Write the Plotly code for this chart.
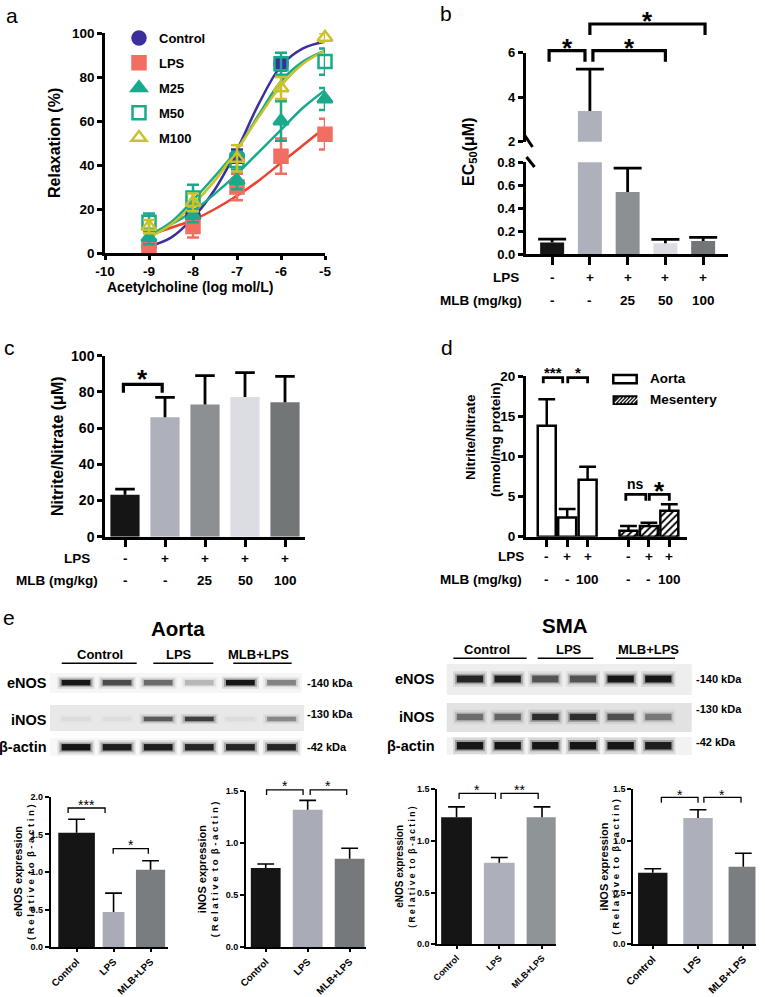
import plotly.graph_objects as go

W, H = 765, 997
FONT = "Arial, Liberation Sans, Helvetica, sans-serif"

# ======================= DATA =======================
# (a) acetylcholine concentration-response (mean, SEM)
ach_log = [-9, -8, -7, -6, -5]
relax_control = [3, 17, 44, 86, None]
relax_control_sem = [1.5, 2, 3, 3, 0]
relax_lps = [3, 12, 30, 44, 54]
relax_lps_sem = [4, 5, 6, 8, 7]
relax_m25 = [7, 17, 33, 60, 70]
relax_m25_sem = [3, 3, 4, 9, 5]
relax_m50 = [14, 25, 42, 86, 87]
relax_m50_sem = [4, 6, 4, 5, 6]
relax_m100 = [12, 23, 43, 75, 98]
relax_m100_sem = [3, 4, 6, 5, 2]
# fitted curves
fit_log = [-9, -8.5, -8, -7.5, -7, -6.5, -6, -5.5, -5]
fit_control = [3, 7, 16, 29, 47, 68, 85, 93, 96]
fit_lps = [8, 11.5, 15, 20, 26, 33, 41, 49, 57]
fit_m25 = [8, 13, 19, 27, 36, 46, 56, 66, 74]
fit_m50 = [8, 14, 24, 35, 47, 63, 78, 87, 92]
fit_m100 = [7, 13, 22, 33, 47, 62, 76, 86, 92]
series_names = ["Control", "LPS", "M25", "M50", "M100"]
a_xticks = [-10, -9, -8, -7, -6, -5]
a_yticks = [0, 20, 40, 60, 80, 100]

# (b) EC50
lps_row5 = ["-", "+", "+", "+", "+"]
mlb_row5 = ["-", "-", "25", "50", "100"]
ec50 = [0.10, 3.38, 0.54, 0.093, 0.113]
ec50_sem = [0.03, 1.88, 0.21, 0.035, 0.032]

# (c) plasma nitrite/nitrate
nox_plasma = [23.2, 66.0, 73.1, 77.2, 74.3]
nox_plasma_sem = [3.1, 11.0, 15.9, 13.4, 14.3]

# (d) tissue nitrite/nitrate
d_lps_row = ["-", "+", "+"]
d_mlb_row = ["-", "-", "100"]
nox_aorta = [13.8, 2.4, 7.1]
nox_aorta_sem = [3.3, 1.05, 1.6]
nox_mes = [0.75, 1.33, 3.24]
nox_mes_sem = [0.58, 0.42, 0.79]

# (e) western blot quantification
e_groups = ["Control", "LPS", "MLB+LPS"]
aorta_enos = [1.52, 0.47, 1.03]
aorta_enos_sem = [0.18, 0.25, 0.12]
aorta_inos = [0.76, 1.32, 0.85]
aorta_inos_sem = [0.04, 0.09, 0.10]
sma_enos = [1.23, 0.79, 1.23]
sma_enos_sem = [0.10, 0.05, 0.10]
sma_inos = [0.69, 1.22, 0.75]
sma_inos_sem = [0.04, 0.08, 0.13]

# blot band intensities (0-1), 6 lanes
blot_rows = ["eNOS", "iNOS", "β-actin"]
blot_kda = ["-140 kDa", "-130 kDa", "-42 kDa"]
aorta_enos_band = [0.95, 0.65, 0.5, 0.2, 0.95, 0.4]
aorta_inos_band = [0.04, 0.03, 0.55, 0.7, 0.04, 0.35]
aorta_actin_band = [0.95, 0.9, 0.9, 0.85, 0.85, 0.85]
sma_enos_band = [0.85, 0.9, 0.6, 0.6, 0.95, 0.95]
sma_inos_band = [0.45, 0.5, 0.8, 0.8, 0.6, 0.4]
sma_actin_band = [0.95, 0.95, 0.95, 0.95, 0.95, 0.9]

# ======================= STYLE =======================
C_CTRL = "#3d2f9b"
C_LPS_M = "#f26d62"
C_LPS_L = "#e8432f"
C_TEAL = "#19a98b"
C_YEL = "#cbc22a"
BAR5 = ["#151515", "#aeb0bb", "#8d9093", "#dcdde2", "#737677"]
E_AORTA_ENOS = ["#151515", "#a9acb6", "#7a7d80"]
E_AORTA_INOS = ["#151515", "#a9acb6", "#76797c"]
E_SMA_ENOS = ["#151515", "#adb0bb", "#8f9497"]
E_SMA_INOS = ["#151515", "#adb0bb", "#7b7e81"]

fig = go.Figure()
shapes, annos, axes = [], [], {}


def sfx(n):
    return "" if n == 1 else str(n)


class Panel:
    def __init__(self, n, xpx, ypx, xr, yr):
        self.n, self.xpx, self.ypx, self.xr, self.yr = n, xpx, ypx, xr, yr
        self.xa = "x" + sfx(n)
        self.ya = "y" + sfx(n)

    def X(self, v):
        return self.xpx[0] + (v - self.xr[0]) / (self.xr[1] - self.xr[0]) * (self.xpx[1] - self.xpx[0])

    def Y(self, v):
        return self.ypx[1] - (v - self.yr[0]) / (self.yr[1] - self.yr[0]) * (self.ypx[1] - self.ypx[0])


def make_axes(p, xkw, ykw):
    s = sfx(p.n)
    xa = dict(domain=[p.xpx[0] / W, p.xpx[1] / W], range=list(p.xr), anchor=p.ya,
              showgrid=False, zeroline=False)
    ya = dict(domain=[1 - p.ypx[1] / H, 1 - p.ypx[0] / H], range=list(p.yr), anchor=p.xa,
              showgrid=False, zeroline=False)
    xa.update(xkw)
    ya.update(ykw)
    axes["xaxis" + s] = xa
    axes["yaxis" + s] = ya


def fmt(v):
    return str(int(v)) if float(v).is_integer() else str(v)


def line_axis(lw, tl, tw, fs, vals, text=None, show=True, angle=None):
    labels = text if text is not None else [fmt(v) for v in vals]
    d = dict(visible=True, showline=True, linecolor="black", linewidth=lw, ticks="outside",
             ticklen=tl, tickwidth=tw, tickcolor="black", tickvals=vals, showticklabels=show,
             ticktext=[f"<b>{t}</b>" for t in labels],
             tickfont=dict(family=FONT, size=fs, color="black"))
    if angle is not None:
        d["tickangle"] = angle
    return d


HIDDEN = dict(visible=False)


def text(xp, yp, t, size, bold=True, xanchor="center", angle=0, xref="paper", color="black"):
    annos.append(dict(x=xp / W if xref == "paper" else xp, y=1 - yp / H, xref=xref, yref="paper",
                      text=t, showarrow=False, xanchor=xanchor, yanchor="middle", textangle=angle,
                      font=dict(family=FONT, size=size, color=color,
                                weight="bold" if bold else "normal")))


def seg(x0, y0, x1, y1, w, color="black"):
    shapes.append(dict(type="line", xref="paper", yref="paper", x0=x0 / W, y0=1 - y0 / H,
                       x1=x1 / W, y1=1 - y1 / H, line=dict(color=color, width=w)))


def rect(x0, y0, x1, y1, fill, lw=0, lc="black", layer="below"):
    shapes.append(dict(type="rect", xref="paper", yref="paper", x0=x0 / W, y0=1 - y1 / H,
                       x1=x1 / W, y1=1 - y0 / H, fillcolor=fill, layer=layer,
                       line=dict(color=lc, width=lw)))


def bracket(p, x1, x2, yv, leg, label, size, lw, dy, bold=True):
    X1, X2, Yp = p.X(x1), p.X(x2), p.Y(yv)
    path = (f"M{X1 / W},{1 - (Yp + leg) / H} L{X1 / W},{1 - Yp / H} "
            f"L{X2 / W},{1 - Yp / H} L{X2 / W},{1 - (Yp + leg) / H}")
    shapes.append(dict(type="path", xref="paper", yref="paper", path=path,
                       line=dict(color="black", width=lw)))
    corr = 0.23 if set(label) <= {"*"} else -0.05
    text((X1 + X2) / 2, Yp - dy + corr * size, label, size, bold)


def bars_with_err(p, x, y, sem, width, marker, thick, capw):
    """Bar + one-sided (upper) error line + cap, Prism style."""
    fig.add_trace(go.Bar(x=x, y=y, width=width, marker=marker,
                         error_y=dict(type="data", symmetric=False, array=sem,
                                      arrayminus=[0] * len(sem), color="black",
                                      thickness=thick, width=0),
                         showlegend=False, hoverinfo="skip", xaxis=p.xa, yaxis=p.ya))
    fig.add_trace(go.Scatter(x=x, y=[m + s for m, s in zip(y, sem)], mode="markers",
                             marker=dict(symbol="line-ew", size=2 * capw, color="black",
                                         line=dict(color="black", width=thick)),
                             showlegend=False, hoverinfo="skip", xaxis=p.xa, yaxis=p.ya))


# ======================= PANEL a =======================
pa = Panel(1, (105, 325), (33, 253), (-10, -5), (0, 100))
make_axes(pa, line_axis(2.5, 4, 2.5, 13.5, a_xticks),
          line_axis(2.5, 5, 2.5, 13.5, a_yticks))
curves = [fit_control, fit_lps, fit_m25, fit_m50, fit_m100]
curve_cols = [C_CTRL, C_LPS_L, C_TEAL, C_TEAL, C_YEL]
for cv, col in zip(curves, curve_cols):
    fig.add_trace(go.Scatter(x=fit_log, y=cv, mode="lines", line=dict(color=col, width=2.5, shape="spline"),
                             showlegend=False, hoverinfo="skip", xaxis=pa.xa, yaxis=pa.ya))
means = [relax_control, relax_lps, relax_m25, relax_m50, relax_m100]
sems = [relax_control_sem, relax_lps_sem, relax_m25_sem, relax_m50_sem, relax_m100_sem]
sym = ["circle", "square", "triangle-up", "square-open", "triangle-up-open"]
mcols = [C_CTRL, C_LPS_M, C_TEAL, C_TEAL, C_YEL]
for name, m, s, sy, col in zip(series_names, means, sems, sym, mcols):
    fig.add_trace(go.Scatter(x=ach_log, y=m, mode="markers", name=name, legendgroup=name,
                             marker=dict(symbol=sy, size=13, color=col, line=dict(color=col, width=2.5)),
                             error_y=dict(type="data", array=s, color=col, thickness=2.5, width=6),
                             cliponaxis=False, xaxis=pa.xa, yaxis=pa.ya))
text(55, 143, "Relaxation (%)", 16, angle=-90)
text(105, 287, "Acetylcholine (log mol/L)", 14, xanchor="left")
text(12, 15, "a", 21, bold=False)

# ======================= PANEL b =======================
pos5 = list(range(len(ec50)))
pb = Panel(2, (525.7, 727.7), (162.3, 254), (-0.70, 4.65), (0, 0.8))
pbu = Panel(3, (525.7, 727.7), (52.7, 141.7), (-0.70, 4.65), (2, 6))
make_axes(pb, line_axis(2.5, 8, 2.5, 13, pos5, show=False),
          line_axis(2.5, 5, 2.5, 13, [0, 0.2, 0.4, 0.6, 0.8], ["0.0", "0.2", "0.4", "0.6", "0.8"]))
make_axes(pbu, HIDDEN, line_axis(2.5, 5, 2.5, 13, [2, 4, 6]))
for p in (pb, pbu):
    bars_with_err(p, pos5, ec50, ec50_sem, 0.635, dict(color=BAR5, line=dict(width=0)), 2.8, 10)
seg(524.5, 135, 532.5, 147, 3)
seg(526.5, 157, 534.5, 167, 3)
bracket(pbu, -0.08, 0.87, 6.09, 11, "*", 26, 3.2, 9)
bracket(pbu, 1.08, 3.0, 6.09, 11, "*", 26, 3.2, 9)
bracket(pbu, 1.0, 4.05, 7.29, 11, "*", 26, 3.2, 9)
text(470, 152, "EC<sub>50</sub>(μM)", 16, angle=-90)
for i, (l, m) in enumerate(zip(lps_row5, mlb_row5)):
    text(i, 277.7, l, 13.5, xref=pb.xa)
    text(i, 300.7, m, 13.5, xref=pb.xa)
text(521, 277.7, "LPS", 13.5, xanchor="right")
text(524, 300.7, "MLB (mg/kg)", 13.5, xanchor="right")
text(446, 14, "b", 21, bold=False)

# ======================= PANEL c =======================
pc = Panel(4, (105, 305), (355.7, 536.7), (-0.5, 4.5), (0, 100))
make_axes(pc, line_axis(2.5, 8, 2.5, 14, pos5, show=False),
          line_axis(2.5, 5, 2.5, 14, [0, 20, 40, 60, 80, 100]))
bars_with_err(pc, pos5, nox_plasma, nox_plasma_sem, 0.73, dict(color=BAR5, line=dict(width=0)), 2.8, 7)
bracket(pc, -0.04, 0.93, 84.2, 8.4, "*", 26, 3.2, 11)
text(57, 446, "Nitrite/Nitrate (μM)", 16, angle=-90)
for i, (l, m) in enumerate(zip(lps_row5, mlb_row5)):
    text(i, 558.3, l, 13.5, xref=pc.xa)
    text(i, 580, m, 13.5, xref=pc.xa)
text(92, 558.3, "LPS", 13.5, xanchor="right")
text(100, 580, "MLB (mg/kg)", 13.5, xanchor="right")
text(9, 347, "c", 21, bold=False)

# ======================= PANEL d =======================
pos_ao = list(range(len(nox_aorta)))
pos_me = [i + len(nox_aorta) + 1 for i in range(len(nox_mes))]
pd_ = Panel(5, (525.7, 686.7), (376, 536.7), (-1.03, 6.85), (0, 20))
make_axes(pd_, line_axis(2.5, 8, 2.5, 13.5, pos_ao + pos_me, show=False),
          line_axis(2.5, 5, 2.5, 13.5, [0, 5, 10, 15, 20]))
bars_with_err(pd_, pos_ao, nox_aorta, nox_aorta_sem, 0.88,
              dict(color="white", line=dict(color="black", width=2.5)), 2.5, 6)
bars_with_err(pd_, pos_me, nox_mes, nox_mes_sem, 0.88,
              dict(color="white", line=dict(color="black", width=2.5),
                   pattern=dict(shape="/", fgcolor="black", bgcolor="white", size=5, solidity=0.35)),
              2.5, 6)
bracket(pd_, -0.17, 0.78, 19.8, 5.6, "***", 15, 2.8, 8.4)
bracket(pd_, 1.03, 2.0, 19.8, 5.6, "*", 15, 2.8, 8.4)
bracket(pd_, 3.87, 4.85, 5.28, 6.4, "ns", 14, 2.8, 9.3)
bracket(pd_, 5.02, 6.0, 5.28, 6.4, "*", 26, 2.8, 9.3)
text(470, 437, "Nitrite/Nitrate", 13.5, angle=-90)
text(495, 440, "(nmol/mg protein)", 13.5, angle=-90)
for i, (l, m) in enumerate(zip(d_lps_row, d_mlb_row)):
    for pos in (pos_ao, pos_me):
        text(pos[i], 556.7, l, 13.5, xref=pd_.xa)
        text(pos[i], 579, m, 13.5, xref=pd_.xa)
text(525.7, 556.7, "LPS", 13.5, xanchor="right")
text(524, 579, "MLB (mg/kg)", 13.5, xanchor="right")
# legend for d
rect(613.3, 375, 636.7, 383.3, "white", lw=2.5, layer="above")
rect(613.3, 396, 636.7, 404.3, "#1a1a1a", lw=1.5, layer="above")
for k in range(6):
    x0 = 615 + k * 3.6
    seg(x0, 403, x0 + 5.5, 397.3, 1.1, color="white")
text(648.3, 379, "Aorta", 13.5, xanchor="left")
text(648.3, 399.3, "Mesentery", 13.5, xanchor="left")
text(447, 347, "d", 21, bold=False)


# ======================= PANEL e : blots =======================
def blot(n, xpx, ypx, lane0, unit, rows_y, rows_h, bands):
    xr = ((xpx[0] - lane0) / unit, (xpx[1] - lane0) / unit)
    p = Panel(n, xpx, ypx, xr, (ypx[1], ypx[0]))
    make_axes(p, HIDDEN, HIDDEN)
    for yc, h, inten in zip(rows_y, rows_h, bands):
        lanes = list(range(len(inten)))
        for hf, wf, af in [(2.2, 0.9, 0.12), (1.5, 0.8, 0.3), (1.0, 0.7, 1.0)]:
            fig.add_trace(go.Bar(x=lanes, y=[h * hf] * len(lanes), base=[yc - h * hf / 2] * len(lanes),
                                 width=wf,
                                 marker=dict(color=[f"rgba(15,15,15,{min(1.0, af * v):.3f})" for v in inten],
                                             line=dict(width=0)),
                                 showlegend=False, hoverinfo="skip", xaxis=p.xa, yaxis=p.ya))
    return p


# Aorta blot
rect(50, 673, 302, 693, "#f6f6f6")
rect(50, 705, 304, 731, "#e8e8e8")
rect(50, 738, 302, 756, "#f7f7f7")
blot(6, (50, 304), (664, 758), 76, 41.1, [682.7, 719, 747.3], [5.5, 4.5, 6.5],
     [aorta_enos_band, aorta_inos_band, aorta_actin_band])
for lab, (cx, l0, l1) in zip(e_groups, [(100, 61.7, 136.7), (179.3, 153.3, 213.3), (258.3, 233.3, 291.7)]):
    text(cx, 654.5, lab, 13)
    seg(l0, 663.3, l1, 663.3, 1.4)
for lab, kda, yl, yk in zip(blot_rows, blot_kda, [682.7, 720, 747.3], [682.7, 714, 747]):
    text(49, yl, lab, 14.5, xanchor="right")
    text(305, yk, kda, 11, xanchor="left")

# SMA blot
rect(446.7, 664, 691.7, 695, "#eeeeee")
rect(446.7, 703, 691.7, 732, "#e2e2e2")
rect(446.7, 737, 691.7, 755, "#f2f2f2")
blot(7, (446.7, 691.7), (660, 758), 470, 37.66, [679, 717, 745.7], [7, 6.5, 7.5],
     [sma_enos_band, sma_inos_band, sma_actin_band])
for lab, (cx, l0, l1) in zip(e_groups, [(486.7, 453.3, 526.7), (569.3, 537.7, 593.3), (648.3, 616, 675)]):
    text(cx, 649.3, lab, 13)
    seg(l0, 658.3, l1, 658.3, 1.4)
for lab, kda, yl, yk in zip(blot_rows, blot_kda, [679, 717, 745.7], [679, 709, 741.7]):
    text(437, yl, lab, 14.5, xanchor="right")
    text(694, yk, kda, 11, xanchor="left")

text(178, 628, "Aorta", 20.5)
text(565, 625, "SMA", 20.5)
text(9, 617, "e", 21, bold=False)

# ======================= PANEL e : bar charts =======================
pos3 = list(range(len(e_groups)))
SPACED = "( R e l a t i v e \u00a0t o \u00a0β - a c t i n )"


def ebar(n, xpx, ypx, xr, ymax, vals, sems, cols, widths, xfs, title, tx, tfs):
    p = Panel(n, xpx, ypx, xr, (0, ymax))
    tv = [0, 0.5, 1.0, 1.5, 2.0] if ymax > 1.6 else [0, 0.5, 1.0, 1.5]
    make_axes(p, line_axis(2, 3, 1.5, xfs, pos3, e_groups, angle=-45),
              line_axis(2, 4, 1.5, 9, tv, [f"{v:.1f}" for v in tv]))
    bars_with_err(p, pos3, vals, sems, widths, dict(color=cols, line=dict(width=0)), 1.6, 6)
    cy = (ypx[0] + ypx[1]) / 2
    text(tx, cy, title, tfs, angle=-90)
    text(tx + 12, cy, SPACED, tfs - 1.5, angle=-90)
    return p


pe1 = ebar(8, (50.7, 168.3), (796.7, 947.3), (-0.70, 2.48), 2.0, aorta_enos, aorta_enos_sem,
           E_AORTA_ENOS, [0.99, 0.59, 0.79], 9.8, "eNOS expression", 18, 11)
bracket(pe1, -0.23, 0.77, 1.85, 5, "***", 14, 1.3, 6, bold=False)
bracket(pe1, 0.99, 1.94, 1.31, 5, "*", 14, 1.3, 6.7, bold=False)

pe2 = ebar(9, (246, 366), (791, 947.3), (-0.47, 2.39), 1.5, aorta_inos, aorta_inos_sem,
           E_AORTA_INOS, 0.71, 9.8, "iNOS expression", 202, 11)
bracket(pe2, 0.02, 0.89, 1.51, 5, "*", 14, 1.3, 6.7, bold=False)
bracket(pe2, 1.06, 1.93, 1.51, 5, "*", 14, 1.3, 6.7, bold=False)

pe3 = ebar(10, (437.3, 555.7), (789.3, 944.3), (-0.45, 2.32), 1.5, sma_enos, sma_enos_sem,
           E_SMA_ENOS, 0.72, 9, "eNOS expression", 400, 10)
bracket(pe3, 0.06, 0.91, 1.46, 5.5, "*", 14, 1.3, 6.6, bold=False)
bracket(pe3, 1.04, 1.91, 1.46, 5.5, "**", 14, 1.3, 6.6, bold=False)

pe4 = ebar(11, (633.3, 755.5), (789, 944.3), (-0.43, 2.27), 1.5, sma_inos, sma_inos_sem,
           E_SMA_INOS, 0.65, 10.3, "iNOS expression", 604, 11)
bracket(pe4, 0.19, 1.0, 1.42, 5.5, "*", 14, 1.3, 6, bold=False)
bracket(pe4, 1.13, 1.95, 1.42, 5.5, "*", 14, 1.3, 6, bold=False)

# ======================= LAYOUT =======================
fig.update_layout(
    template="none", width=W, height=H, autosize=False,
    margin=dict(l=0, r=0, t=0, b=0, pad=0),
    paper_bgcolor="white", plot_bgcolor="rgba(0,0,0,0)",
    font=dict(family=FONT, color="black"),
    barmode="overlay", showlegend=True,
    legend=dict(x=119 / W, y=1 - 23 / H, xanchor="left", yanchor="top", bgcolor="rgba(0,0,0,0)",
                traceorder="grouped", tracegroupgap=5, itemsizing="trace",
                font=dict(family=FONT, size=13, color="black", weight="bold")),
    shapes=shapes, annotations=annos, **axes,
)

fig.write_html("out.html", config={"displayModeBar": False},
               post_script="document.body.style.margin='0px';")
